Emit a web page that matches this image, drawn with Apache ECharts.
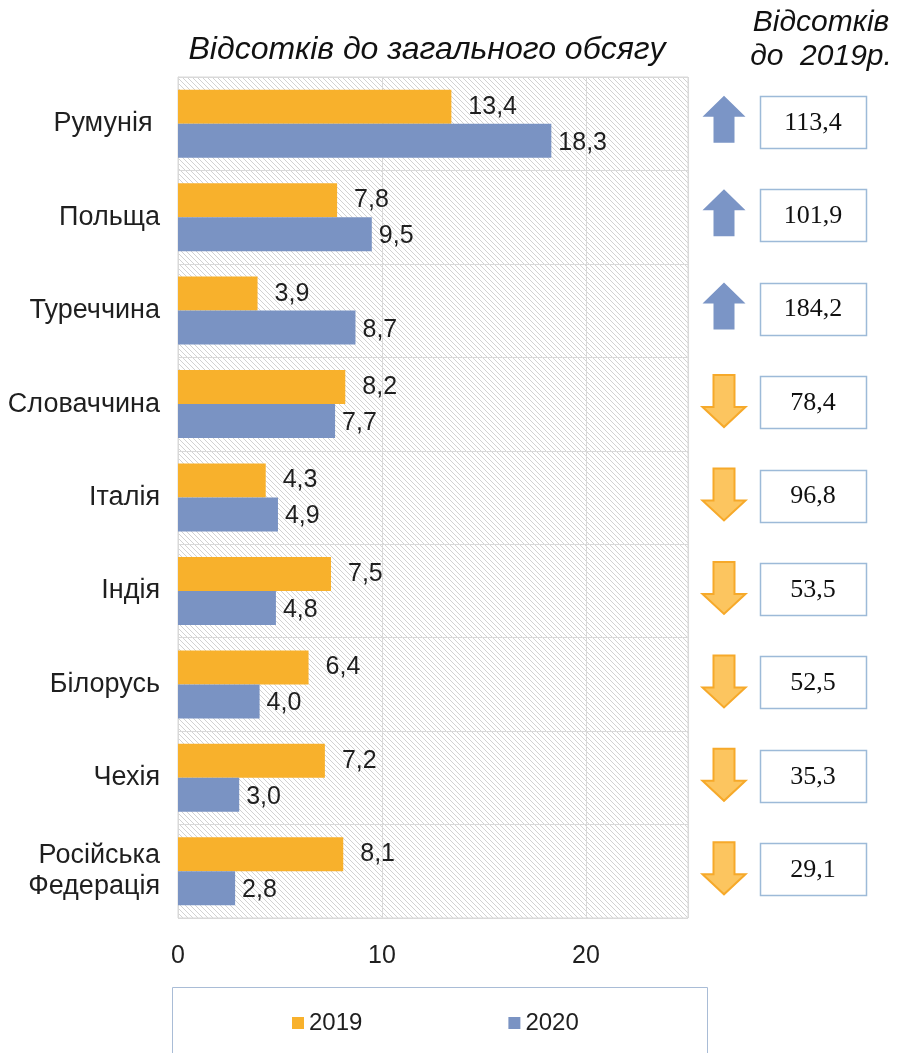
<!DOCTYPE html>
<html><head><meta charset="utf-8">
<script src="https://cdn.jsdelivr.net/npm/echarts@6/dist/echarts.min.js"></script>
<style>html,body{margin:0;padding:0;background:#fff}#c{width:899px;height:1053px}</style>
</head><body><div id="c"></div>
<script>
const categories = ['Румунія ', 'Польща', 'Туреччина', 'Словаччина', 'Італія', 'Індія', 'Білорусь', 'Чехія', 'Російська\nФедерація'];
const values2019 = [13.4, 7.8, 3.9, 8.2, 4.3, 7.5, 6.4, 7.2, 8.1];
const values2020 = [18.3, 9.5, 8.7, 7.7, 4.9, 4.8, 4.0, 3.0, 2.8];
const ratioTo2019 = [113.4, 101.9, 184.2, 78.4, 96.8, 53.5, 52.5, 35.3, 29.1];
const seriesNames = ['2019', '2020'];
const xTicks = [0, 10, 20];

const fmt = v => String(v.toFixed(1)).replace('.', ',');

// hatch pattern
const P = 5;
const pc = document.createElement('canvas');
pc.width = P; pc.height = P;
const pctx = pc.getContext('2d');
pctx.fillStyle = '#ffffff'; pctx.fillRect(0, 0, P, P);
pctx.fillStyle = '#d2d2d2';
for (let i = 0; i < P; i++) pctx.fillRect(i, i, 1, 1);

const chart = echarts.init(document.getElementById('c'), null, {renderer: 'canvas'});
const FF = '"Liberation Sans", Arial, sans-serif';
const txt = size => ({fontFamily: FF, fontSize: size, color: '#1f1f1f'});

chart.setOption({
  animation: false,
  title: [
    {text: 'Відсотків до загального обсягу', left: 422, top: 29, textAlign: 'center',
     textStyle: {fontFamily: FF, fontStyle: 'italic', fontWeight: 'normal', fontSize: 32, color: '#111'}},
    {text: 'Відсотків\nдо  2019р.', left: 816, top: 1, textAlign: 'center',
     textStyle: {fontFamily: FF, fontStyle: 'italic', fontWeight: 'normal', fontSize: 30, lineHeight: 34, color: '#111'}}
  ],
  grid: {left: 178, right: 211, top: 77, bottom: 135, show: true, borderColor: '#d9d9d9', borderWidth: 1,
         backgroundColor: {image: pc, repeat: 'repeat'}},
  legend: {data: seriesNames, left: 287, top: 1006, itemWidth: 12, itemHeight: 12, itemGap: 146,
           icon: 'rect', textStyle: txt(24)},
  graphic: [{type: 'rect', shape: {x: 172.5, y: 987.5, width: 535, height: 80},
             style: {fill: 'none', stroke: '#a9bcd6', lineWidth: 1}, silent: true, z: -1}],
  xAxis: {type: 'value', min: 0, max: 25, interval: 10,
          axisLine: {show: false}, axisTick: {show: false},
          axisLabel: Object.assign({margin: 26, showMaxLabel: false,
            formatter: v => xTicks.indexOf(v) >= 0 ? String(v) : ''}, txt(25)),
          splitLine: {show: true, lineStyle: {color: '#d9d9d9', width: 1}}},
  yAxis: {type: 'category', data: categories, inverse: true,
          axisLine: {show: true, lineStyle: {color: '#d9d9d9'}}, axisTick: {show: false},
          axisLabel: Object.assign({margin: 18, lineHeight: 31, align: 'right'}, txt(27)),
          splitLine: {show: true, lineStyle: {color: '#d9d9d9', width: 1}}},
  series: [
    {name: seriesNames[0], type: 'bar', data: values2019, barWidth: 34, barGap: '0%',
     itemStyle: {color: '#f8b12c'},
     label: Object.assign({show: true, position: 'right', distance: 17, formatter: p => fmt(p.value)}, txt(25))},
    {name: seriesNames[1], type: 'bar', data: values2020, barWidth: 34, barGap: '0%',
     itemStyle: {color: '#7a93c3'},
     label: Object.assign({show: true, position: 'right', distance: 7, offset: [0, 2], formatter: p => fmt(p.value)}, txt(25))},
    {type: 'custom', clip: false, silent: true,
     data: ratioTo2019.map((r, i) => [0, i, r]),
     encode: {x: 0, y: 1},
     renderItem: function (params, api) {
       const y = api.coord([0, api.value(1)])[1] - 2;
       const r = api.value(2);
       const ax = 724, hw = 21.5, sw = 10.5;
       let arrow;
       if (r >= 100) {
         const top = y - 26, hb = top + 21, bot = y + 21;
         arrow = {type: 'polygon', shape: {points: [[ax, top], [ax + hw, hb], [ax + sw, hb], [ax + sw, bot], [ax - sw, bot], [ax - sw, hb], [ax - hw, hb]]},
                  style: {fill: '#7b95c6', stroke: null}};
       } else {
         const top = y - 27, hb = top + 32, bot = y + 25;
         arrow = {type: 'polygon', shape: {points: [[ax - sw, top], [ax + sw, top], [ax + sw, hb], [ax + hw, hb], [ax, bot], [ax - hw, hb], [ax - sw, hb]]},
                  style: {fill: '#fcc55f', stroke: '#f6a92a', lineWidth: 2}};
       }
       return {type: 'group', children: [
         arrow,
         {type: 'rect', shape: {x: 760.5, y: Math.round(y - 26) + 0.5, width: 106, height: 52},
          style: {fill: '#fff', stroke: '#9dbad8', lineWidth: 1.5}},
         {type: 'text', x: 813, y: y + 1, style: {text: fmt(r), fontFamily: '"Liberation Serif", "Times New Roman", serif', fontSize: 26,
          fill: '#111', align: 'center', verticalAlign: 'middle'}}
       ]};
     }}
  ]
});
</script></body></html>
